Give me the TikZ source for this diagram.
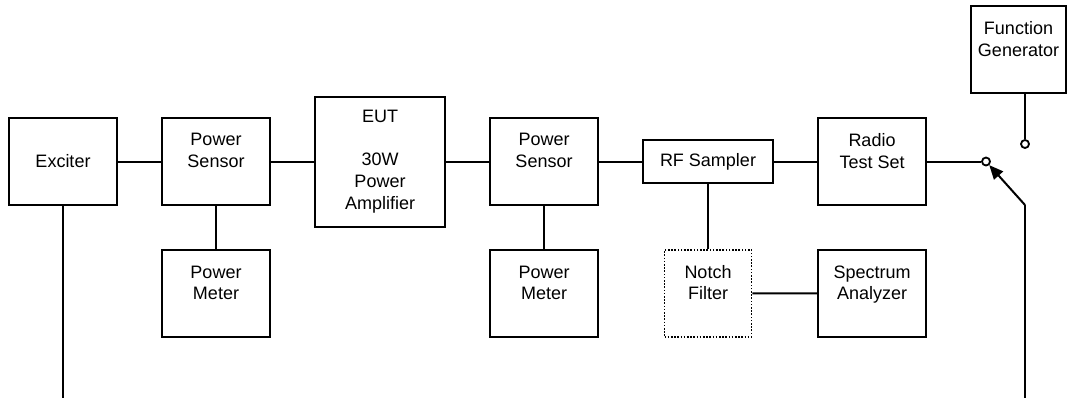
\documentclass[tikz,border=0pt]{standalone}
\usepackage{fontspec}
\setmainfont{Liberation Sans}
\usepackage{tikz}
\usetikzlibrary{arrows.meta, positioning}

\begin{document}
\begin{tikzpicture}[
    x=1bp, y=-1bp,
    every node/.style={font=\fontsize{18bp}{21.7bp}\selectfont},
    blk/.style={draw, line width=2bp, inner sep=0pt, minimum width=108bp, minimum height=87bp, align=center},
    contact/.style={draw, circle, line width=1.8bp, fill=white, inner sep=0pt, minimum size=8bp},
    wire/.style={line width=2bp},
    arr/.style={-{Triangle[length=14bp, width=12bp]}, line width=2bp},
]
    \useasboundingbox (0,0) rectangle (1070,398);

    % Main chain
    \node[blk] (exciter) at (63,161.5) {Exciter};
    \node[blk, right=43bp of exciter] (psA) {Power\\Sensor\\~};
    \node[blk, minimum width=130bp, minimum height=130bp, right=43bp of psA] (eut) {EUT\\~\\30W\\Power\\Amplifier};
    \node[blk, right=43bp of eut] (psB) {Power\\Sensor\\~};
    \node[blk, minimum width=130bp, minimum height=43bp, right=43bp of psB] (sampler) {RF Sampler};
    \node[blk, right=43bp of sampler] (radio) {Radio\\Test Set\\~};

    % Lower row
    \node[blk, below=43bp of psA] (pmA) {Power\\Meter\\~};
    \node[blk, below=43bp of psB] (pmB) {Power\\Meter\\~};
    \node[blk, minimum width=87bp, line width=1.6bp, dash pattern=on 1.6bp off 1.6bp, below=65bp of sampler] (notch) {Notch\\Filter\\~};
    \node[blk, below=43bp of radio] (analyzer) {Spectrum\\Analyzer\\~};

    % Switch
    \node[blk, minimum width=95bp] (fgen) at (1018.5,49.5) {Function\\Generator\\~};
    \node[contact] (swA) at (986,161.5) {};
    \node[contact] (swB) at (1025,144) {};
    \coordinate (pivot) at (1025,205);
    \coordinate (pivotEnd) at (1025,398);
    \coordinate (excEnd) at (63,398);

    % Connections
    \draw[wire] (exciter) -- (psA);
    \draw[wire] (psA) -- (eut);
    \draw[wire] (eut.east |- psB) -- (psB);
    \draw[wire] (psB) -- (sampler);
    \draw[wire] (sampler) -- (radio);
    \draw[wire] (psA) -- (pmA);
    \draw[wire] (psB) -- (pmB);
    \draw[wire] (sampler) -- (notch);
    \draw[wire] (notch) -- (analyzer);
    \draw[wire] (radio) -- (swA);
    \draw[wire] (swB |- fgen.south) -- (swB);
    \draw[arr] (pivot) -- (swA);
    \draw[wire] (pivot) -- (pivotEnd);
    \draw[wire] (exciter) -- (excEnd);
\end{tikzpicture}
\end{document}
